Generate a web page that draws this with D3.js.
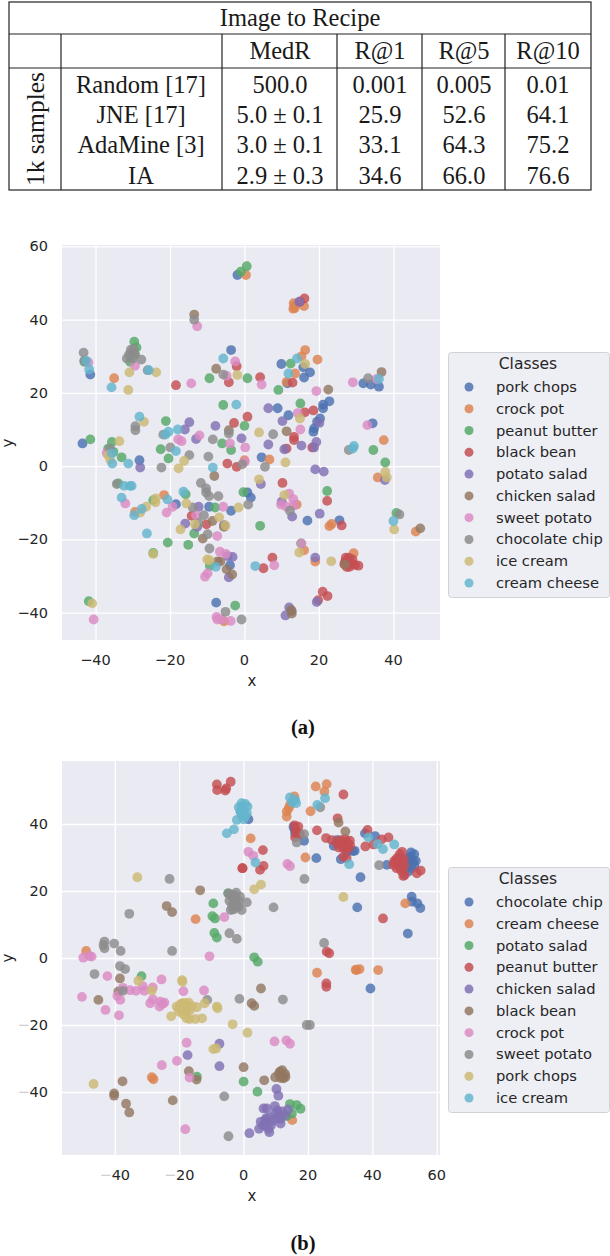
<!DOCTYPE html>
<html>
<head>
<meta charset="utf-8">
<script src="https://cdn.jsdelivr.net/npm/d3@7/dist/d3.min.js"></script>
<style>
html,body{margin:0;padding:0;background:#fff}
svg{display:block}
</style>
</head>
<body>
<svg id="page" width="610" height="1256"></svg>
<script>
// Retrieval results table
const tableTitle = "Image to Recipe";
const tableHeader = ["MedR", "R@1", "R@5", "R@10"];
const tableGroup = "1k samples";
const tableMethods = ["Random [17]", "JNE [17]", "AdaMine [3]", "IA"];
const tableMedR = ["500.0", "5.0 ± 0.1", "3.0 ± 0.1", "2.9 ± 0.3"];
const tableR1 = ["0.001", "25.9", "33.1", "34.6"];
const tableR5 = ["0.005", "52.6", "64.3", "66.0"];
const tableR10 = ["0.01", "64.1", "75.2", "76.6"];

// Palette shared by both scatter plots
const palette = ["#4c72b0", "#dd8452", "#55a868", "#c44e52", "#8172b3", "#937860", "#da8bc3", "#8c8c8c", "#ccb974", "#64b5cd"];

// Panel (a): t-SNE coordinates per class
const classesA = ["pork chops", "crock pot", "peanut butter", "black bean", "potato salad", "chicken salad", "sweet potato", "chocolate chip", "ice cream", "cream cheese"];
const porkChopsA = [[-43.5,6.2],[-41.4,25],[-28.2,1.6],[-3.6,31.7],[-1.9,52.2],[9.9,27.9],[15.8,27],[17.6,25.6],[16,24.2],[11.5,22.6],[31.9,22.6],[33.9,22.3],[36.1,21.7],[22.8,17.7],[21.1,16.8],[21.1,15.8],[8.9,15.8],[11.8,13.9],[20.3,13],[19.5,12.1],[18.7,10.3],[18.5,9.4],[34.4,11.7],[4.6,2.4],[-18.4,-10.4],[-9.5,-11.1],[-3.6,-12.2],[-7.6,-37.3],[-3.9,-27.1],[0.8,-7.2],[1.7,-8.6],[16.9,-14.9],[25.5,-14.8]];
const crockPotA = [[-35,24],[0.4,52.2],[13.6,44],[13.1,43],[13.2,44.5],[13.5,43.2],[16,43.7],[16.3,31.7],[15.3,30],[19.6,29.1],[13.6,25.3],[11.3,23],[6.7,1.8],[37.4,7.1],[0,1.6],[-21.6,-7.9],[-29.4,-12.5],[-5.5,-42.4],[35.8,-3.1],[14,-10.5],[22.8,-16.4],[23.4,-15.8],[16,-23],[19,-26.1],[29.3,-23.8],[46,-17.9]];
const peanutButterA = [[-41.4,7.3],[-29.6,34],[-29,32.4],[-29.4,30.5],[-30.7,28.5],[-35.6,6.6],[-36.6,4.8],[-35.2,3.9],[-33,2.4],[-22.5,4.6],[-20.4,2.1],[-21.1,12.3],[-9.4,24],[-5.7,16.7],[-6,6.2],[-3.6,4.4],[-1,53.1],[0.6,54.6],[-43,28.5],[12.4,28],[0.8,24],[9.1,20.8],[15,17.1],[0,11],[34.6,4.4],[37.8,1],[-33.9,-4.7],[-24.5,-9.3],[-15.8,-7.7],[-7.9,-11.3],[-13.5,-18.4],[-20.6,-20.9],[-15.1,-21.5],[-24.5,-23.7],[-9.3,-27.2],[-41.8,-36.9],[-2.5,-38.1],[-0.3,-7.1],[22.2,-6.8],[4.2,-16.3],[40.8,-12.8],[15.2,-21.1]];
const blackBeanA = [[-18.4,22.1],[-4.2,22.9],[-2.1,27.3],[-2.8,11.8],[-4.6,0.7],[-2.1,-0.2],[16.1,45.8],[14.9,44.9],[4.2,24.3],[12.9,22.8],[0.8,13.5],[16.2,14.7],[18.5,15.2],[13.3,8],[13.3,7.1],[11.3,4.8],[18.2,5.1],[-14.2,-13.6],[-10.2,-15.9],[10.2,-4.6],[22.2,-9.5],[26.1,-16.2],[7.5,-25],[5.1,-27.9],[27,-26.1],[27.9,-25.7],[28.8,-26.6],[29.7,-27],[30.6,-27.2],[27.2,-25],[28,-25],[26.8,-26.8],[28.2,-27.5],[27.5,-27.6],[29,-25.5],[21,-34.3],[22.3,-35.5],[19.8,-36.6]];
const potatoSaladA = [[-14.8,12],[-16,10],[-7.8,11],[-13,7.4],[-0.8,7.6],[-28,-0.4],[14.7,44.9],[6.4,15.8],[10.2,12.3],[20.1,11.8],[6.4,5.9],[10.7,4.6],[15.3,5.6],[19.3,6.6],[18.7,5.1],[19,-0.9],[21.3,-1.5],[-12.3,-11.1],[-15.9,-15.7],[-12.7,-16.6],[-5.5,-16.1],[-4.5,-24.6],[-3.2,-24.8],[-4.2,-30.4],[4.4,-4.9],[10,-9.7],[12.8,-13.8],[20.2,-13],[37.7,-3.8],[19,-25],[12,-38.6],[12.7,-39.6],[11,-40.8],[19.4,-37.1]];
const chickenSaladA = [[-13.5,41.4],[-7.6,26.6],[-4.2,9.8],[36.8,25.7],[22.5,20.9],[11.3,9.5],[-8.1,-2.7],[-11.2,-19.8],[-8.6,-15],[-7.2,-26],[-6.5,-26.1],[-4.8,-28.2],[-3.3,-29.6],[-5.5,-16.6],[47.2,-17],[27,-26.9],[12.5,-39.3],[12.7,-40.3]];
const sweetPotatoA = [[-41.9,28.3],[-29.4,27.4],[-12.7,38.2],[-14.3,22.6],[-2.5,28.6],[-4.8,24.7],[-12.1,8.4],[-17.8,7.3],[-16.9,6.8],[-3.9,6.2],[-37,3.6],[4.6,22.3],[19.3,20.5],[29.1,22.9],[35.5,23.8],[14.3,14.5],[15,10],[33,11.2],[0.2,5.1],[0.1,1.2],[-32,-10.2],[-20.9,-12.7],[-19.3,-11.1],[-13,-13.4],[-5.7,-11.1],[-7.3,-19.1],[-6.6,-23.4],[-5,-24],[-10.6,-30.2],[-9.9,-29.3],[-40.5,-41.9],[-7.5,-41.2],[-7.3,-41.9],[-6.1,-41.9],[-3.7,-42.3],[12,-7.5],[13.1,-9],[9.8,-10.5],[11.3,-11.1],[13.3,-10.7],[15.3,-21.1],[8,-27.1]];
const chocolateChipA = [[-43.2,31],[-43,28.8],[-29.3,10.9],[-29.3,9.8],[-30,31.2],[-31.6,29.4],[-30,29.4],[-30.5,30.5],[-30.5,31.8],[-29.8,32],[-31,30.5],[-29.5,30.5],[-27.7,29.1],[-26,26.2],[-13.5,40],[-21.8,8.6],[-19.9,5.1],[-14.8,3],[-9.7,2.6],[-8.5,7.3],[-5.7,25],[-4.2,8.9],[-22.3,-0.4],[-36.1,4.8],[33.2,24],[7.7,8.7],[28,4.4],[5.5,-0.2],[-0.6,0.5],[-34.3,-4.9],[-11.7,-4.6],[-10.3,-6.1],[-10.3,-7.2],[-9.5,-8.2],[-7,-8.2],[-13.9,-11.3],[-10.9,-13.4],[-12.3,-15.5],[-9.9,-18.6],[-9.4,-22.5],[-5.1,-39.8],[-0.8,-41.9],[1,-10.5],[12.2,-12.2],[41.6,-13.2]];
const iceCreamA = [[-30.9,25.6],[-23.7,25.6],[-31.2,20.8],[-27,12.1],[-33.6,6.8],[-36.6,3],[-36.1,1.8],[-16.2,1.4],[-17.7,-0.6],[-1.9,24.9],[16.3,27.9],[14.9,13],[3.9,9.2],[11,1],[37.8,-1.6],[-26.4,-11.1],[-23.8,-8.8],[-23.9,-9.9],[-28,-12.7],[-15.6,-10.2],[-6.8,-14],[-5.1,-16.2],[-13.3,-15.9],[-17.2,-17.3],[-24.5,-24],[-10,-25.5],[-9.4,-25.7],[-40.9,-37.5],[-1.6,-11.3],[3.9,-3.6],[10.7,-7.9],[38.2,-3.1],[14.7,-23.6],[23.3,-26],[40.2,-17.3]];
const creamCheeseA = [[-42.5,28.8],[-41.7,26.4],[-35.7,21.5],[-25.7,26.2],[-28.2,13.5],[-21.2,8.6],[-20.4,9.4],[-17.9,10],[-18.4,4.1],[-35.6,3.5],[-35.5,0.7],[-31.2,0.7],[-8.5,-0.4],[-5.7,29.4],[-2.2,16.8],[14.1,29.4],[11.8,25.3],[36.1,23.8],[29.4,5.5],[29.1,4.8],[-32.3,-5.4],[-30.7,-5.4],[-30.3,-5.4],[-33,-8.6],[-27.6,-11.7],[-29.6,-13.4],[-26.2,-18.4],[-20.7,-9.1],[-16.4,-7],[-7.7,-27.5],[40,-15],[2.9,-27.3]];

// Panel (b): t-SNE coordinates per class
const classesB = ["chocolate chip", "cream cheese", "potato salad", "peanut butter", "chicken salad", "black bean", "crock pot", "sweet potato", "pork chops", "ice cream"];
const chocolateChipB = [[1.5,41.4],[15.5,39.2],[16,37.2],[15.8,38.5],[18.8,35],[29,35.2],[28,33.5],[32,31.5],[34.5,32],[37.7,37.2],[40.8,36.4],[33.9,31.9],[30.2,29.5],[44.5,27.8],[53,31],[51.7,30.2],[52.7,28.8],[51.2,27.8],[52.2,26.8],[51.2,25.8],[51,29.5],[52,29.5],[53.5,29],[50.5,28.5],[52,31.5],[53,27.5],[50,26.5],[22.6,29.8],[36.3,24.1],[35.3,15.1],[52.2,18.3],[52.3,16.8],[54,16.3],[54.9,14.9],[51,7.3],[39.4,-9.1]];
const creamCheeseB = [[-14.9,11.6],[-48.9,2.1],[22.4,51.2],[25.8,51.9],[25.1,49.7],[15.8,48.2],[14.4,45.7],[14,44.7],[13.4,43.7],[13.4,42.2],[20.8,43.8],[2.2,35.7],[19.2,30],[50.2,16.3],[-28.5,-35.6],[-28,-36.2],[22.8,-4.4],[35.1,-3.6],[36,-3.3],[34.8,-3.5],[41.8,-3.6],[15.1,-48.4]];
const potatoSaladB = [[-4.8,19.3],[-9.4,16.3],[-9.7,12.5],[-8.9,11.8],[-9.1,7.5],[-8.3,6.1],[3.3,0.2],[4.4,-1.1],[-31.7,-5.4],[-14.5,-35.4],[0,-36.9],[4.3,-39.9],[14.4,-43.6],[16.5,-43.9],[17.7,-45],[15,-46.4],[13.4,-47.2]];
const peanutButterB = [[-8.3,51.8],[-4,52.6],[-8.2,50.1],[-5.4,50.6],[-5.7,50],[-0.3,26.8],[31,48.8],[29.2,41.7],[17,39.2],[15.8,39.6],[16.2,38.2],[16.5,37.2],[16,36],[17.5,37],[22.8,38.1],[25.6,35.8],[27.4,35.2],[31,34.2],[30,35.2],[32,34.7],[33.1,33.7],[29.5,33],[31,32.7],[32.6,32.7],[30.5,33.5],[32,33],[31.5,35.5],[29,34.3],[33,35],[31,30.2],[32,29.8],[38.5,38.2],[37.8,33.3],[40.3,33.9],[42.9,35.4],[45,36],[49.2,31.7],[47.6,29.8],[48.1,27.8],[46.5,27.8],[49.1,28.8],[48.6,26.8],[49.6,24.5],[47,28.5],[48,29.5],[47.5,26.8],[46.8,29],[49,26],[48.5,31],[49.8,29.5],[50,27.5],[50,24.8],[53.8,25.3],[55,26.1],[6,32.2],[6.2,27.5],[5.1,26.3],[-0.4,26.8],[43.3,11.8],[25.8,1.9],[26.6,1.4],[25.7,-7.6],[25.7,-8.6]];
const chickenSaladB = [[-7.5,-25.6],[-17.4,-29],[-7.5,-32.3],[10.2,-39.1],[10.8,-41.1],[7.2,-44.9],[9.7,-44.2],[13.8,-45.2],[9.8,-46.4],[11.3,-46.9],[12.9,-46.9],[11.5,-49.4],[9,-48.6],[6.7,-48.4],[5.3,-48.9],[6.7,-49.9],[4.8,-51],[8,-52],[1.8,-52.3],[7.7,-51],[10.3,-47.9],[6.2,-44.9],[8,-47.5],[7.5,-49],[8.5,-50],[10.5,-45.5],[12,-45.8],[6,-50],[7,-47.8],[11.5,-48]];
const blackBeanB = [[-13.5,20.2],[-23.9,15.5],[-22.2,13.7],[29.5,40.4],[31.6,37.8],[-38.4,-6.1],[-38.9,-10],[-45.1,-12.5],[-17,-33.8],[-14.6,-36.3],[-37.6,-36.8],[-40.2,-40.4],[-40.2,-41.1],[-36.5,-43.5],[-35.5,-46.1],[-22,-42.5],[5.4,-9.1],[2.5,-13.5],[3.3,-14.3],[0,-32.6],[11.3,-33.9],[12.9,-34.6],[9.8,-35.6],[12.4,-35.9],[11.9,-34.9],[12,-33.5],[11,-34.5],[13,-35.5],[11.5,-35.8],[6.4,-36.5]];
const crockPotB = [[-6,12.2],[-10.6,0.5],[-49.8,0.1],[-47.9,0.6],[-47.2,0.4],[1.5,31.7],[3,30.5],[13.6,28.1],[14.4,27.4],[-42.3,-5.4],[-50.2,-11.6],[-42.9,-15.5],[-38.7,-17.1],[-39.2,-11.3],[-38.3,-12.5],[-37.5,-8.9],[-35.3,-9.6],[-33.4,-9.8],[-31.3,-8.4],[-30.8,-9.8],[-28.2,-8.8],[-25.5,-6.4],[-28.2,-12.3],[-29,-13.5],[-25.9,-13],[-26.1,-14.5],[-25.1,-13.7],[-24.6,-13.3],[-18.7,-9.9],[-12.3,-9.7],[-17.7,-25.3],[-20.7,-30.7],[-25.4,-32],[-16.8,-35.7],[-18.1,-51.1],[9.6,-24.9],[13.3,-24.6],[14.4,-25.6]];
const sweetPotatoB = [[-23,23.6],[-35.5,13.2],[-22.2,2.1],[-40.2,4.3],[-38.2,2.1],[-43.2,4.9],[-43.5,3.9],[-43.2,2.9],[-4.4,7.4],[-2.1,5.7],[-4,14.3],[-4.7,19.3],[-2.3,19.5],[-4.4,17.1],[-3.2,17.8],[-1.9,15.3],[-1.1,18.3],[-2.6,18.3],[-1.6,15.3],[-0.6,14.3],[-3.1,14.5],[-3.6,15.5],[-3,16],[-2.5,16.5],[-1.5,17],[-2.8,18.8],[-3.8,18.5],[1,16.6],[23.8,45],[18.8,37],[16.5,34.5],[42.1,27.7],[18.9,23.6],[9.3,15.1],[25,4.5],[-38.4,-2.4],[-36.8,-3.3],[-46.3,-4.8],[-37.5,-9.8],[-11.3,-12.5],[-1.3,-12.2],[-6,-41.3],[-4.7,-53.2],[12.2,-12.4],[19.6,-20],[20.6,-20]];
const porkChopsB = [[-33,24.1],[3.3,20.5],[5.4,21.9],[31,18.2],[-32.7,-6.8],[-28.5,-9.7],[-19.1,-6.6],[-19,-7.1],[-20.8,-14.5],[-19.2,-14],[-18.2,-13.5],[-17.1,-13.3],[-20.2,-16],[-18.2,-15.5],[-16.6,-15.5],[-14.5,-14.7],[-12.1,-13.5],[-19,-13.5],[-20,-15],[-18.8,-16.8],[-17.5,-14.5],[-19.5,-13.7],[-18.5,-15],[-17.8,-16.5],[-16,-14.3],[-22.5,-17.4],[-17.7,-18],[-16.8,-18.2],[-15,-18.2],[-12.9,-18],[-8.3,-14.5],[-8.1,-15],[-3.4,-19.8],[-9.4,-27.2],[-8.5,-27],[-46.6,-37.6],[-19.7,-15],[1.2,-22.3]];
const iceCreamB = [[-5.2,37.2],[-3,38.4],[-2.1,41.2],[-0.6,46.2],[-0.9,43.7],[1.2,45.2],[-1,43.7],[0,44.2],[1,43.2],[-0.6,42.7],[0,41.4],[-0.5,45],[0.5,46],[-0.2,43],[0.5,42.3],[-1.5,45],[14.4,47.9],[16,47.2],[16.3,46.2],[15,46.5],[25.3,47.7],[22.9,45.7],[38.8,36],[41.6,34],[43.3,32.5],[46.8,33.9],[3.7,28.5],[32.8,28]];

const seriesA = [porkChopsA, crockPotA, peanutButterA, blackBeanA, potatoSaladA, chickenSaladA, sweetPotatoA, chocolateChipA, iceCreamA, creamCheeseA];
const seriesB = [chocolateChipB, creamCheeseB, potatoSaladB, peanutButterB, chickenSaladB, blackBeanB, crockPotB, sweetPotatoB, porkChopsB, iceCreamB];

const ticksAX = [-40, -20, 0, 20, 40];
const ticksAY = [-40, -20, 0, 20, 40, 60];
const ticksBX = [-40, -20, 0, 20, 40, 60];
const ticksBY = [-40, -20, 0, 20, 40];

const svg = d3.select("#page");
const serif = "'Liberation Serif', serif";
const sans = "'DejaVu Sans', sans-serif";
const ink = "#262626";

function drawTable() {
  const g = svg.append("g").attr("font-family", serif).attr("fill", "#1a1a1a");
  const left = 9, right = 591, top = 2, bottom = 190;
  const colEdges = [61, 222, 337, 422, 505];
  const rowEdges = [34, 68];
  const line = (x1, y1, x2, y2) => g.append("line").attr("x1", x1).attr("y1", y1).attr("x2", x2).attr("y2", y2).attr("stroke", "#222").attr("stroke-width", 1.2);
  g.append("rect").attr("x", left).attr("y", top).attr("width", right - left).attr("height", bottom - top).attr("fill", "none").attr("stroke", "#222").attr("stroke-width", 1.2);
  rowEdges.forEach(y => line(left, y, right, y));
  colEdges.forEach(x => line(x, rowEdges[0], x, bottom));

  const text = (x, y, s) => g.append("text").attr("x", x).attr("y", y).attr("text-anchor", "middle").attr("dominant-baseline", "central").attr("font-size", 24.5).text(s);
  text(300, 17, tableTitle);
  const centers = [280, 380, 464, 548];
  const rowY = d3.scalePoint().domain(d3.range(tableMethods.length)).range([84, 175]);
  tableHeader.forEach((h, i) => text(centers[i], 50, h));
  tableMethods.forEach((m, r) => {
    text(141, rowY(r), m);
    [tableMedR, tableR1, tableR5, tableR10].forEach((col, i) => text(centers[i], rowY(r), col[r]));
  });
  g.append("text").attr("transform", "translate(35,129) rotate(-90)").attr("text-anchor", "middle").attr("dominant-baseline", "central").attr("font-size", 25.5).text(tableGroup);
}

function drawScatter(opts) {
  const g = svg.append("g");
  const x = d3.scaleLinear().domain(opts.xDomain).range([62, 440]);
  const y = d3.scaleLinear().domain(opts.yDomain).range([opts.bottom, opts.top]);

  g.append("rect").attr("x", 62).attr("y", opts.top).attr("width", 378).attr("height", opts.bottom - opts.top).attr("fill", "#eaeaf2");

  const xAxis = d3.axisBottom(x).tickValues(opts.xTicks).tickSize(opts.top - opts.bottom).tickPadding(0)
    .tickFormat(d => "");
  const yAxis = d3.axisLeft(y).tickValues(opts.yTicks).tickSize(-378).tickFormat(d => "");
  const gx = g.append("g").attr("transform", `translate(0,${opts.bottom})`).call(xAxis);
  const gy = g.append("g").attr("transform", "translate(62,0)").call(yAxis);
  [gx, gy].forEach(a => {
    a.select(".domain").remove();
    a.selectAll("line").attr("stroke", "#fff").attr("stroke-width", 1.3);
  });

  const label = (sel, v) => {
    if (v < 0) {
      sel.append("tspan").attr("fill", opts.faintMinus ? "#cfcfcf" : ink).text("\u2212");
      sel.append("tspan").text(Math.abs(v));
    } else sel.text(v);
  };
  g.append("g").selectAll("text").data(opts.xTicks).join("text")
    .attr("x", d => x(d)).attr("y", opts.xLabelY).attr("text-anchor", "middle").attr("dominant-baseline", "central")
    .attr("font-family", sans).attr("font-size", 14.5).attr("fill", ink).each(function (d) { label(d3.select(this), d); });
  g.append("g").selectAll("text").data(opts.yTicks).join("text")
    .attr("x", 48).attr("y", d => y(d)).attr("text-anchor", "end").attr("dominant-baseline", "central")
    .attr("font-family", sans).attr("font-size", 14.5).attr("fill", ink).each(function (d) { label(d3.select(this), d); });

  g.append("text").attr("x", 252).attr("y", opts.xNameY).attr("text-anchor", "middle").attr("dominant-baseline", "central")
    .attr("font-family", sans).attr("font-size", 15).attr("fill", ink).text("x");
  g.append("text").attr("transform", `translate(8,${opts.yNameY}) rotate(-90)`).attr("text-anchor", "middle").attr("dominant-baseline", "central")
    .attr("font-family", sans).attr("font-size", 15).attr("fill", ink).text("y");

  opts.series.forEach((pts, i) => {
    g.append("g").selectAll("circle").data(pts).join("circle")
      .attr("cx", d => x(d[0])).attr("cy", d => y(d[1])).attr("r", 4.9)
      .attr("fill", palette[i]).attr("fill-opacity", 0.82);
  });

  // Legend
  const lg = g.append("g").attr("transform", `translate(448,${opts.legendTop})`);
  lg.append("rect").attr("x", 0.5).attr("y", 0.5).attr("width", 161).attr("height", 245).attr("rx", 3)
    .attr("fill", "#eeeef5").attr("stroke", "#d2d2d6").attr("stroke-width", 1);
  lg.append("text").attr("x", 80).attr("y", 12).attr("text-anchor", "middle").attr("dominant-baseline", "central")
    .attr("font-family", sans).attr("font-size", 15.5).attr("fill", ink).text("Classes");
  const ly = d3.scalePoint().domain(opts.classes).range([35, 231]);
  const items = lg.selectAll("g.item").data(opts.classes).join("g").attr("class", "item")
    .attr("transform", d => `translate(0,${ly(d)})`);
  items.append("circle").attr("cx", 21).attr("r", 4.5).attr("fill", (d, i) => palette[i]).attr("fill-opacity", 0.85);
  items.append("text").attr("x", 48).attr("y", -0.5).attr("dominant-baseline", "central")
    .attr("font-family", sans).attr("font-size", 14.7).attr("fill", ink).text(d => d);
}

function caption(s, y) {
  svg.append("text").attr("x", 303).attr("y", y).attr("text-anchor", "middle").attr("dominant-baseline", "central")
    .attr("font-family", serif).attr("font-weight", "bold").attr("font-size", 20.5).attr("fill", "#111").text(s);
}

drawTable();
drawScatter({
  series: seriesA, classes: classesA, xDomain: [-49, 52.5], yDomain: [-47.5, 60.4],
  top: 245, bottom: 640, xTicks: ticksAX, yTicks: ticksAY,
  xLabelY: 660, xNameY: 681, yNameY: 443, legendTop: 352, faintMinus: false
});
caption("(a)", 727);
drawScatter({
  series: seriesB, classes: classesB, xDomain: [-56.4, 61], yDomain: [-58.8, 58.8],
  top: 761, bottom: 1155, xTicks: ticksBX, yTicks: ticksBY,
  xLabelY: 1175, xNameY: 1196, yNameY: 958, legendTop: 867, faintMinus: true
});
caption("(b)", 1243);
</script>
</body>
</html>
